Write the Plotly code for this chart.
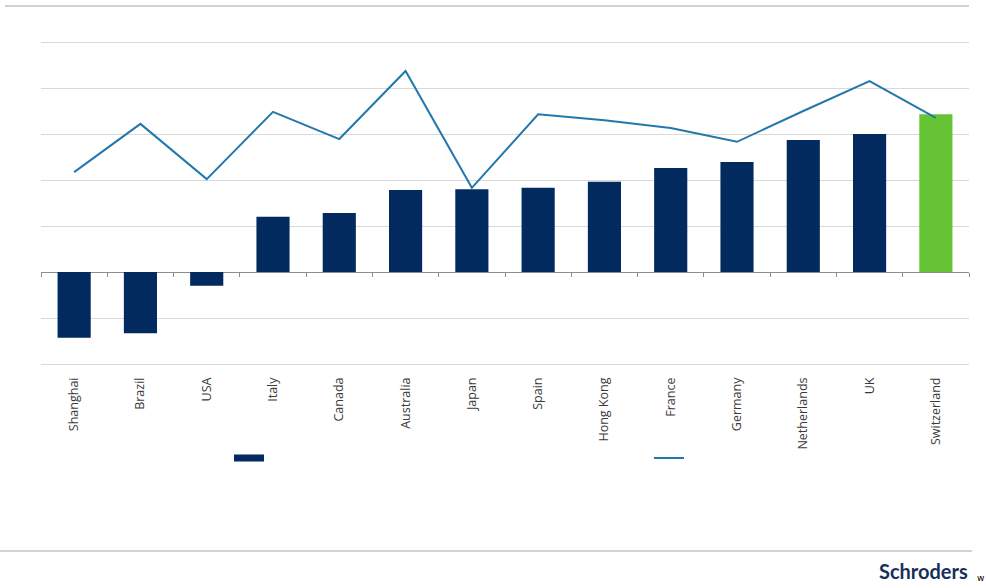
import plotly.graph_objects as go

categories = ["Shanghai", "Brazil", "USA", "Italy", "Canada", "Australia", "Japan",
              "Spain", "Hong Kong", "France", "Germany", "Netherlands", "UK", "Switzerland"]
bar_values = [-1.43, -1.33, -0.30, 1.20, 1.28, 1.78, 1.80, 1.83, 1.96, 2.26, 2.39, 2.87, 3.00, 3.43]
line_values = [2.17, 3.22, 2.02, 3.48, 2.89, 4.37, 1.83, 3.43, 3.30, 3.13, 2.83, 3.50, 4.15, 3.35]
highlight = "Switzerland"

NAVY = "#022a5e"
GREEN = "#66c435"
LINE = "#2477ad"

bar_colors = [GREEN if c == highlight else NAVY for c in categories]

fig = go.Figure()
fig.add_trace(go.Bar(x=categories, y=bar_values, marker=dict(color=bar_colors, line=dict(width=0)),
                     width=0.5, showlegend=False, hoverinfo="x+y"))
fig.add_trace(go.Scatter(x=categories, y=line_values, mode="lines",
                         line=dict(color=LINE, width=2), showlegend=False, xaxis="x2"))
# legend entries (no labels in the original)
fig.add_trace(go.Scatter(x=[None], y=[None], mode="lines", name=" ",
                         line=dict(color=NAVY, width=7), showlegend=True, legend="legend"))
fig.add_trace(go.Scatter(x=[None], y=[None], mode="lines", name=" ",
                         line=dict(color=LINE, width=2), showlegend=True, legend="legend2"))

ymin, ymax = -2, 5
eps = 2 / 46
L, T, W, H = 41, 40, 986, 588
PW, PB = 928, 366
PH = PB - T


def px(x):
    return (x - L) / PW


def py(y):
    return (PB - y) / PH


fig.update_layout(
    width=W, height=H,
    margin=dict(l=L, r=W - L - PW, t=T, b=H - PB),
    paper_bgcolor="white", plot_bgcolor="white",
    font=dict(family="Open Sans", color="#404040", size=12),
    xaxis=dict(type="category", categoryorder="array", categoryarray=categories,
               range=[-0.5, len(categories) - 0.5],
               tickangle=-90, showgrid=False, showline=False, zeroline=False,
               ticks="", ticklabelstandoff=8, tickfont=dict(size=12.5, color="#3a3a3a")),
    xaxis2=dict(type="category", categoryorder="array", categoryarray=categories,
                range=[-0.5, len(categories) - 0.5], overlaying="x", anchor="free",
                position=(0 - ymin + eps) / (ymax - ymin + 2 * eps), side="bottom",
                showticklabels=False, ticks="outside", ticklen=4, tickcolor="#8c8c8c",
                tickson="boundaries", showgrid=False, showline=False, zeroline=False),
    yaxis=dict(range=[ymin - eps, ymax + eps], dtick=1, tick0=0, showticklabels=False,
               showgrid=True, gridcolor="#d9d9d9", gridwidth=1, zeroline=True,
               zerolinecolor="#8c8c8c", zerolinewidth=1, showline=False),
    legend=dict(orientation="h", x=px(229), xanchor="left",
                y=py(458), yanchor="middle", bgcolor="rgba(0,0,0,0)"),
    legend2=dict(orientation="h", x=px(649), xanchor="left",
                 y=py(458), yanchor="middle", bgcolor="rgba(0,0,0,0)"),
    shapes=[
        dict(type="line", xref="paper", yref="paper", x0=px(5), x1=px(969),
             y0=py(6), y1=py(6), line=dict(color="#a6a6a6", width=1.2)),
        dict(type="line", xref="paper", yref="paper", x0=px(0), x1=px(972),
             y0=py(551), y1=py(551), line=dict(color="#a6a6a6", width=1.2)),
    ],
    annotations=[
        dict(text="<b>Schroders</b>", xref="paper", yref="paper", x=px(970), y=py(571),
             xanchor="right", yanchor="middle", showarrow=False,
             font=dict(family="Lato", size=20, color="#17305a")),
        dict(text="w", xref="paper", yref="paper", x=px(975), y=py(578),
             xanchor="left", yanchor="middle", showarrow=False,
             font=dict(family="DejaVu Sans", size=9, color="#000000")),
    ],
)

fig.write_html("out.html", config={"displayModeBar": False},
               post_script="document.body.style.margin='0';")
